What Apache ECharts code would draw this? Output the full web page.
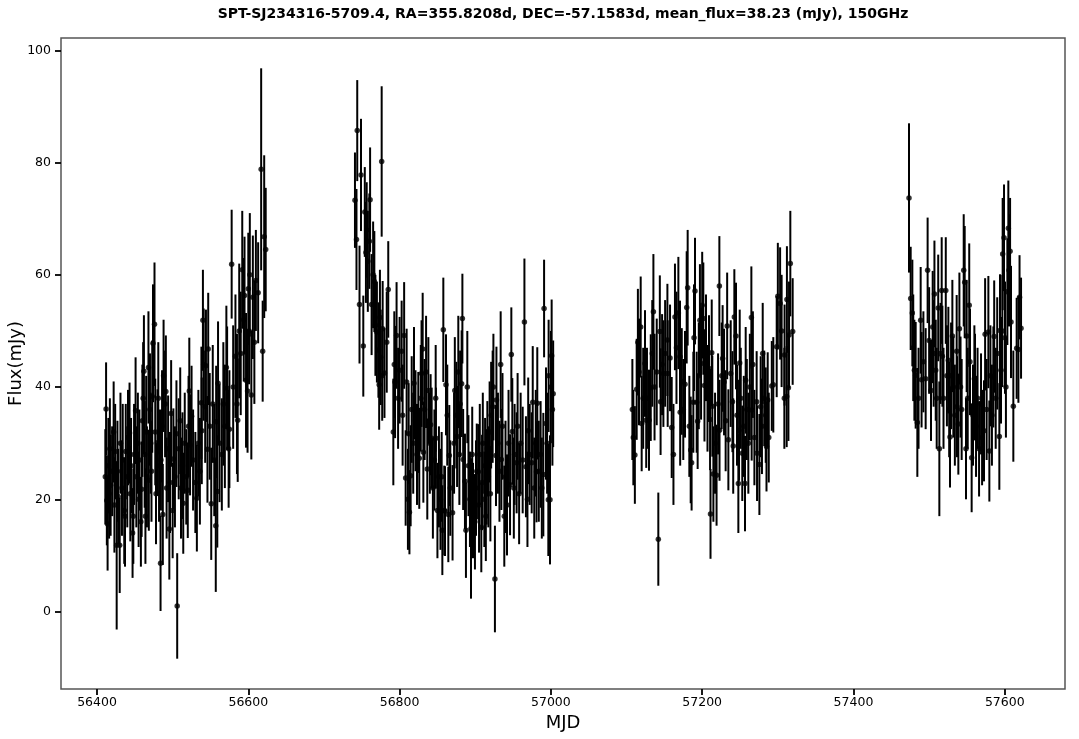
<!DOCTYPE html>
<html>
<head>
<meta charset="utf-8">
<script src="https://cdn.jsdelivr.net/npm/echarts@6/dist/echarts.min.js"></script>
<style>
    html, body { margin: 0; padding: 0; background: #fff; }
    #chart { width: 1079px; height: 739px; }
</style>
</head>
<body>
<div id="chart"></div>
<script>
// values, one block per observing season
var mjd1 = [
    56411,56412,56413,56414,56415,56416,56417,56418,56420,56422,
    56423,56424,56426,56427,56428,56430,56431,56433,56434,56436,
    56437,56438,56440,56441,56443,56444,56445,56447,56448,56449,
    56451,56452,56454,56455,56456,56458,56459,56460,56461,56462,
    56463,56464,56465,56466,56468,56468.5,56470,56471,56472,56473,
    56474,56476,56477,56478,56480,56481,56482,56484,56484.5,56486,
    56487,56488,56490,56491,56492,56494,56495.6,56496.5,56498,56500,
    56501,56503,56505,56506,56508,56510,56511,56513,56514,56516,
    56518,56520,56521,56522,56523,56525,56527,56530,56532,56534,
    56536,56538,56538.5,56540,56541,56543,56544,56546,56547,56549,
    56551,56553,56555,56557,56557.5,56559,56560,56562,56565,56567,
    56569,56571,56572,56574,56575,56578,56580,56583,56585,56586,
    56588,56590,56592,56594,56595,56597,56599,56600,56601,56602,
    56604,56606,56608,56610,56613,56617,56619,56621,56623
];
var flux1 = [
    24,36.1,19.8,15.6,26,21,29,22.5,25,32,
    19,28.5,11.8,25,20.5,11.8,30,22,27,18,
    17,28.5,24,31,31.8,21,26,14,17,28,
    35.8,24,30,20,27,16,21.8,34,38,42.8,
    28,17,32,24,43.5,23.4,36,30,25,38.3,
    47.8,51.2,32,21,30.1,38,26,8.6,27,33,
    17.3,42,37,39.2,22,29,14.7,23,35.3,18,
    27.2,24,31.7,1,29,34,22,26,19.3,30,
    24,21.6,33,39.3,29.7,34.8,27,23,20.2,30,
    25,37.2,32.2,51.9,44,36.5,43.8,28.9,46.8,33,
    19.2,37,27,15.3,33.8,21.4,40.7,30,28,37,
    33,43.5,39.8,29,32.5,61.9,40,45.5,37,34.1,
    50,46,60.9,52,56.3,41.2,39.3,57.5,50,60,
    38.6,56,48,59,56.8,78.8,46.4,66.8,64.5
];
var err1 = [
    8.5,8.3,8,8.3,8.5,8,9,9,8,9,
    8.5,8.5,15,9,8.5,8.5,9,8.5,10,9.5,
    9,8.5,9,8.5,9,8.5,8.5,8,8.5,9,
    9.5,9,9,8.5,9,8,8.5,10,10,10,
    9.5,8.5,10,9,10,9,10,9,9,10,
    10.5,11,9.5,9,9.5,10,10,8.5,9,10,
    9,10,9.5,10,9,9.5,9,9,9.5,8.5,
    9,9,9.5,9.4,9,9.5,9,9.5,9,9,
    8.5,8.5,9,9.5,9,9,9,9,9.5,9.5,
    9.5,10,9.5,9,10,10,10,9.5,10,9.5,
    10,10.5,10,11.8,10,10,11,10.5,10,11,
    11,11,11,10.5,10.5,9.7,11,11,12.5,11,
    12,11,10.5,11,10.5,12,11,10,9.5,11,
    11.5,11,11,9,9,18,9,14.5,11
];

var mjd2 = [
    56741,56743,56744,56747,56749,56752,56754,56755.5,56756.5,56758,
    56760,56761,56763,56765,56766.6,56768,56770,56772,56773,56774,
    56775,56776.3,56777,56777.6,56780,56783,56785,56791.7,56793,56794,
    56796,56798,56800,56802.7,56804,56806,56808,56809.3,56811,56812,
    56813,56814.6,56816,56818,56819,56821,56823,56824.7,56826,56828,
    56829,56830.5,56831.4,56833,56835,56836.6,56838,56840,56841,56842.4,
    56844,56846,56847.7,56848,56850,56852,56854,56855.6,56856.5,56857.8,
    56859,56860,56861.3,56863,56864.4,56865.7,56867,56870,56872,56873,
    56875,56876,56877.6,56879,56880,56882,56883,56884,56886.4,56887.7,
    56889.5,56891,56893,56894.4,56896,56897,56899.6,56901,56902,56904,
    56905,56906,56908,56909,56910,56912,56913,56914,56915,56916,
    56917.3,56919,56920,56921,56923,56924,56926,56927.4,56928,56930,
    56932,56933.6,56934.5,56936,56938.4,56940,56942,56944,56946,56947.7,
    56949,56951,56952,56954.7,56956,56958,56960,56962.7,56965,56967,
    56969,56970,56972,56974.6,56976,56978,56980,56981,56982,56984,
    56986.4,56988,56990,56991,56993.5,56995,56996.6,56997,56998.8,57000,
    57001,57002,57003
];
var flux2 = [
    73.3,66.3,85.7,54.7,77.8,47.3,71.2,64,68,62.4,
    66,73.4,54.7,60,58.8,51,49.8,46.6,40.4,52.4,
    45.3,80.2,42,50.4,42.5,48,57.4,32,44,40.9,
    49.2,38,43,46.4,35,49.2,23.8,40.9,20,31.7,
    17.7,24.2,36,30,40.7,34,28,33.7,27.3,38,
    42.4,46.8,28.4,36,42.7,25.4,39.4,30,33.3,30.9,
    22,27,38,30.9,18,24,20,24,14.5,50.2,
    18,17.9,40.4,35,17.3,27.8,22,17.6,30,39.4,
    35,31.2,42.7,28,37,40.6,52.2,27.1,23.2,14.5,
    40,26,20,14.8,28,18,16,22,25,24.9,
    19,28,15,23,30,20,26,17,24,29,
    24,32,21,35,36.5,40,5.8,27.8,37.7,30,
    25,44,27.1,33,17,24,19,30,22.6,45.8,
    32.1,22,28,26.5,33,21,30,27,51.6,25.8,
    20,32.2,28,26.5,37.3,22,30,24.9,37.1,25,
    28,22,24.4,54,33.5,30,19.9,42,19.9,40,
    45.6,36,38.8
];
var err2 = [
    8.5,9,9,10.5,10,9,8,9,8.5,9,
    8.5,9.3,9,9.5,9,9,9,8.5,8,8.5,
    8.5,13.4,8,8.5,8,9,8.6,9.5,9.5,10,
    9.5,9,9.5,9,9,9.5,8.5,9.5,9,9,
    7.5,9,9.5,9,10,9,9,9,9,9.5,
    9.5,10,9,9,10,9,9.5,9,9,9,
    9,9,9.5,9,8.5,9,9,8,8,9.3,
    8,8,9,9,8.5,9,8.5,8.5,9,9.5,
    9.5,9,10,9,9.5,9.5,8,9,8.5,8.5,
    10,9,8.5,12.5,8.5,8.5,8.5,8.5,8.5,8.5,
    8.5,9,8,8.5,9,8.5,8.5,8,8.5,8.5,
    9,9,8.5,9.5,10,9.5,9.5,9,9.5,9,
    9,9.5,9,9.5,9,10,9,9.5,9,8.4,
    9.5,9,9,9,9.5,9,9,9.5,11.3,9,
    8.5,9.5,9,9,10,9,9.5,9,10,9,
    9.5,9,11,8.7,10,9,10,10,11.5,10,
    10,10,9.5
];

var mjd3 = [
    57107.7,57109,57111,57113.4,57115,57116.5,57118.7,57120,57122,57124.4,
    57126,57127,57129.7,57132,57134,57135.5,57137,57139.9,57142,57144,
    57145,57147,57148.7,57151,57154,57154.4,57157.5,57159.7,57162,57164,
    57166,57168.5,57170.7,57170.9,57173,57175,57177.3,57179.5,57180.8,57183,
    57184.8,57186,57188.3,57189.2,57190.5,57192.7,57194,57195.5,57197,57198.5,
    57200,57201.5,57203,57205,57207,57209,57210.4,57211,57212.6,57213.4,
    57214.8,57217,57219,57221,57222.7,57222.9,57225.8,57227,57228.9,57231,
    57233,57234.6,57237.7,57240,57241,57242.5,57244.7,57246,57247.8,57248.7,
    57249.6,57251,57253,57255,57256.6,57257.5,57259,57261,57263,57265,
    57265.4,57267,57269,57272,57272.5,57275.6,57277.3,57279,57280,57282,
    57284,57285,57286.6,57288,57292,57294,57298.5,57300,57303,57305,
    57308.6,57308.9,57311.7,57312,57314,57314.8,57316.5,57319.6
];
var flux3 = [
    36,31,27.9,39.6,48,42.7,50.7,33.5,38,44.2,
    34.1,38,34.1,39.9,46,53.4,40,42.7,12.9,49.9,
    37.4,44,42.4,46,48.4,42.4,45.2,32.8,28,52.5,
    47,53.2,45.4,35.5,41,36,40.5,54.2,57.7,33,
    28.8,26.5,37.3,48.8,57.1,37.3,33.9,42,51.9,44.2,
    54.6,52.2,40.3,47,38,43.3,34.2,17.4,46.1,36.6,
    24.5,30,24.3,37,58,32.3,42,45.1,40.9,34,
    50.9,30.6,42.4,37.4,29.5,52.5,49.1,35,22.8,32.3,
    44.3,38,28.2,33,22.8,41.2,36,30,40,52.4,
    35.9,44,31,37.4,28.2,26.2,36.5,33,46,38,
    35,29.4,37.7,31,40.2,40.4,47.2,56.2,54.9,50,
    38,45.7,38.3,55.6,39.9,49.3,62,49.9
];
var err3 = [
    9,8.5,8.7,9,9.5,9.5,9,8.5,9,9.5,
    8.5,9,9,9.5,9.5,10.3,9.5,9.5,8.3,10,
    9.5,9,9.5,9.5,10,9.5,9.5,9,9,9.5,
    10,10,10,9.5,9.5,9,9.5,10,10.3,9,
    9.5,8.5,9,9.5,9.5,9,8.5,9.5,10,10,
    9.5,10,10,9.5,9.5,9.5,9,8,9.5,9,
    8.5,9,9,9,8.9,9,9.5,9.5,9.5,9,
    9.5,9,9.5,9,8.5,8.5,9.5,9,8.8,9,
    9.5,9,8.5,9,8.5,9.5,9,9,9.5,9.1,
    9,9.5,8.5,9,8.5,9,9,8.5,9,8.5,
    8.5,8,8.5,8,8,8.5,9,9.5,10,10,
    9,9,9,9.5,9.5,9.5,9.4,9.5
];

var mjd4 = [
    57473.4,57475.6,57477.8,57479,57480.5,57482.2,57484.4,57486,57488.8,57490,
    57492.4,57495.4,57498,57500,57502.5,57504.7,57506,57507,57508.7,57510,
    57512,57513.5,57515,57516.6,57517.5,57519,57522,57523.5,57525.4,57526.5,
    57527.6,57529,57530.7,57532,57534,57536.4,57536.8,57538.6,57540,57541.5,
    57543,57545.7,57547,57548.7,57549.6,57551,57553,57554,57556.2,57558,
    57559.8,57560.6,57562,57564,57566,57568.6,57570,57572.5,57574,57576,
    57578.3,57579.6,57581,57583,57584.9,57586,57588,57590,57592.8,57593.7,
    57595,57596.8,57597.2,57599,57600.3,57601.5,57603.4,57604.7,57605.6,57607,
    57608.2,57611.3,57615.7,57618,57619.5,57621.5
];
var flux4 = [
    73.7,55.8,53.2,47,43,42.1,33.7,38,51.9,41.3,
    44.5,41.5,60.8,48.3,39.4,50.7,46,56.6,43,38,
    54.1,29,46,57.2,45.5,38,57.2,42,44.8,36,
    31.1,42,49.1,40,35,46.4,36.5,33.4,50.4,40,
    36,60.8,58.7,29,49.1,38,54.6,44.5,27.4,35,
    41.5,40,33,38,29,37,31,32.2,49.4,36,
    49.8,28.6,42,35,41.8,49,38,46,31.2,50.1,
    43,50,63.7,66.6,48.8,40,57,68.3,60.8,64.2,
    51.6,36.6,46.9,46.7,56,50.5
];
var err4 = [
    13.3,9.2,9.5,9.5,9,9.5,9.7,9,9.5,8.5,
    9,9,9.4,9.5,9,10,9.5,9.5,9,9,
    9.5,12,9,9.5,9,9,9.5,9,9.5,8.5,
    9,9.5,10,9,9,10,9,9,10,9,
    9,10,10,9,10,9,11,9.5,9.7,9,
    9.5,9.5,9,9,8.5,9,8.5,9,10,9,
    10,9,9,9,9,10,9,10,9.5,10,
    9.5,10,10,9.5,10,9,9.5,8.5,10,9.5,
    10,9.9,9,9.5,7.5,9
];

var xTicks = [56400, 56600, 56800, 57000, 57200, 57400, 57600];
var yTicks = [0, 20, 40, 60, 80, 100];

var mjd = mjd1.concat(mjd2, mjd3, mjd4);
var flux = flux1.concat(flux2, flux3, flux4);
var fluxErr = err1.concat(err2, err3, err4);

var points = mjd.map(function (m, i) {
    return [m, flux[i], fluxErr[i]];
});

var myChart = echarts.init(document.getElementById('chart'));

var font = '"DejaVu Sans", sans-serif';

var option = {
    animation: false,
    backgroundColor: '#fff',
    title: {
        text: 'SPT-SJ234316-5709.4, RA=355.8208d, DEC=-57.1583d, mean_flux=38.23 (mJy), 150GHz',
        left: 558,
        top: 2,
        textAlign: 'center',
        textStyle: { fontFamily: font, fontSize: 14, fontWeight: 'bold', color: '#000' }
    },
    grid: {
        left: 61, right: 14, top: 38, bottom: 50,
        outerBoundsMode: 'none',
        show: true, borderColor: '#555', borderWidth: 1.5
    },
    xAxis: {
        type: 'value',
        min: 56352.4,
        max: 57679.6,
        name: 'MJD',
        nameLocation: 'middle',
        nameGap: 25,
        nameTextStyle: { fontFamily: font, fontSize: 18, color: '#000' },
        splitLine: { show: false },
        axisLine: { show: false, onZero: false },
        axisTick: { customValues: xTicks, length: 6, lineStyle: { color: '#000', width: 1.8 } },
        axisLabel: {
            customValues: xTicks,
            margin: 7,
            fontFamily: font,
            fontSize: 12.5,
            color: '#000',
            formatter: function (value) { return String(value); }
        }
    },
    yAxis: {
        type: 'value',
        min: -13.8,
        max: 102.2,
        name: 'Flux(mJy)',
        nameLocation: 'middle',
        nameGap: 36,
        nameMoveOverlap: false,
        nameTextStyle: { fontFamily: font, fontSize: 18, color: '#000' },
        splitLine: { show: false },
        axisLine: { show: false, onZero: false },
        axisTick: { customValues: yTicks, length: 6, lineStyle: { color: '#000', width: 1.8 } },
        axisLabel: {
            customValues: yTicks,
            margin: 10,
            fontFamily: font,
            fontSize: 12.5,
            color: '#000',
            formatter: function (value) { return String(value); }
        }
    },
    series: [
        {
            // error bars
            type: 'custom',
            data: points,
            silent: true,
            encode: { x: 0, y: 1 },
            renderItem: function (params, api) {
                var x = api.value(0);
                var y = api.value(1);
                var e = api.value(2);
                var top = api.coord([x, y + e]);
                var bottom = api.coord([x, y - e]);
                return {
                    type: 'line',
                    shape: { x1: top[0], y1: top[1], x2: bottom[0], y2: bottom[1] },
                    style: { stroke: '#000', lineWidth: 2 }
                };
            }
        },
        {
            type: 'scatter',
            data: points,
            symbol: 'circle',
            symbolSize: 5.5,
            silent: true,
            itemStyle: { color: '#000' },
            encode: { x: 0, y: 1 }
        }
    ]
};

myChart.setOption(option, true);
</script>
</body>
</html>
